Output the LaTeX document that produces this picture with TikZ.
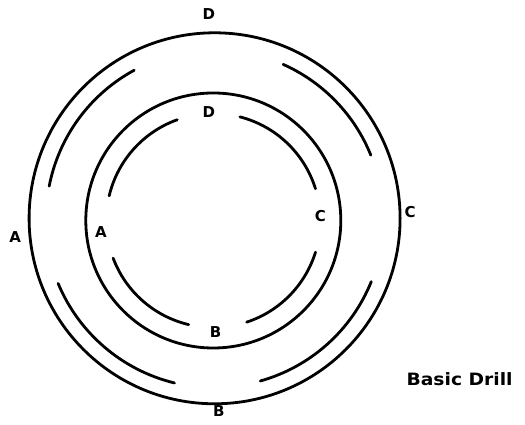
\documentclass[tikz,border=0pt]{standalone}
\usepackage{fontspec}
\newfontfamily\handfont{DejaVu Sans}
\begin{document}
\begin{tikzpicture}[x=1pt,y=1pt,
  ring/.style={line width=2.8pt},
  lane/.style={line width=2.8pt, line cap=round},
  lbl/.style={font=\handfont\bfseries\fontsize{15}{15}\selectfont, inner sep=0pt},
  title/.style={font=\handfont\bfseries\fontsize{17}{17}\selectfont, inner sep=0pt}]
\useasboundingbox (0,0) rectangle (525,425);
\coordinate (OC) at (214.6,206.7);
\coordinate (IC) at (213.3,204.5);
% circles
\draw[ring] (OC) circle[radius=185.5];
\draw[ring] (IC) circle[radius=127.5];
% outer lanes
\draw[lane] ([shift={(118.5:168.5)}]OC) arc[start angle=118.5, end angle=169, radius=168.5];
\draw[lane] ([shift={(22:168.5)}]OC) arc[start angle=22, end angle=66, radius=168.5];
\draw[lane] ([shift={(202.6:169.5)}]OC) arc[start angle=202.6, end angle=256.3, radius=169.5];
\draw[lane] ([shift={(285.7:169)}]OC) arc[start angle=285.7, end angle=338, radius=169];
% inner lanes
\draw[lane] ([shift={(109.7:107)}]IC) arc[start angle=109.7, end angle=166.7, radius=107];
\draw[lane] ([shift={(17.3:107)}]IC) arc[start angle=17.3, end angle=75.6, radius=107];
\draw[lane] ([shift={(200.6:107)}]IC) arc[start angle=200.6, end angle=256.7, radius=107];
\draw[lane] ([shift={(288.2:107)}]IC) arc[start angle=288.2, end angle=342.8, radius=107];
% labels
\node[lbl] (oD) at (208.8,410.9) {D};
\node[lbl] (oC) at (410,213) {C};
\node[lbl] (oA) at (15.2,188.3) {A};
\node[lbl] (oB) at (218.9,13.6) {B};
\node[lbl] (iD) at (208.8,312.9) {D};
\node[lbl] (iC) at (320.5,208.8) {C};
\node[lbl] (iA) at (101,193.4) {A};
\node[lbl] (iB) at (215.5,93.4) {B};
\node[title, xscale=1.1] (t) at (459.6,46.2) {Basic Drill};
\end{tikzpicture}
\end{document}
